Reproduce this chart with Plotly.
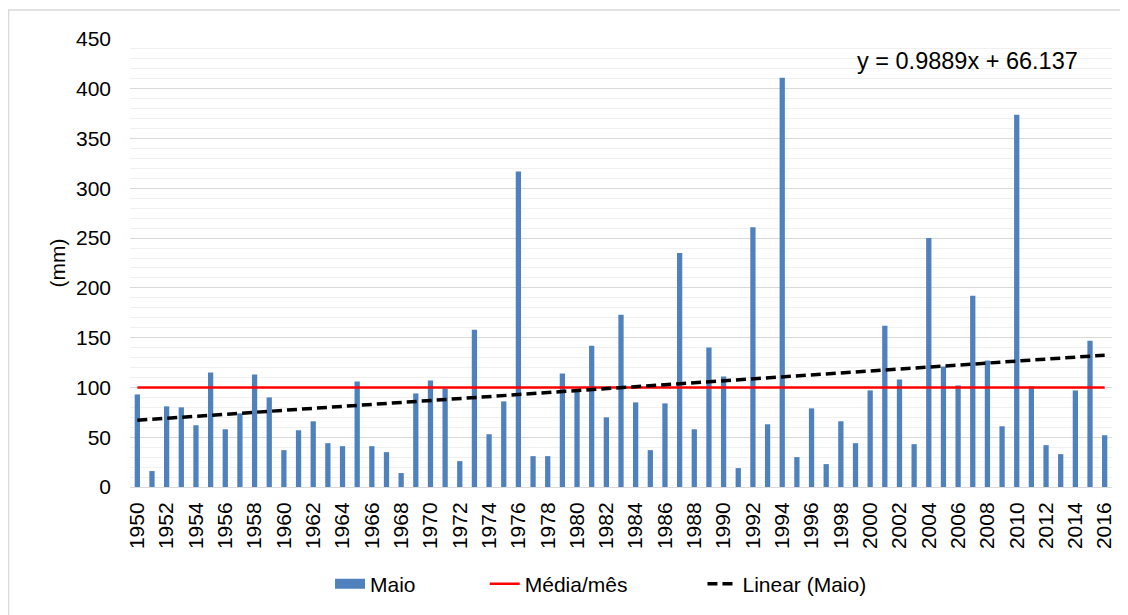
import plotly.graph_objects as go

years = list(range(1950, 2017))
maio_mm = [93, 16, 81, 80, 62, 115, 58, 74, 113, 90,
           37, 57, 66, 44, 41, 106, 41, 35, 14, 94,
           107, 99, 26, 158, 53, 86, 317, 31, 31, 114,
           96, 142, 70, 173, 85, 37, 84, 235, 58, 140,
           111, 19, 261, 63, 411, 30, 79, 23, 66, 44,
           97, 162, 108, 43, 250, 121, 102, 192, 127, 61,
           374, 101, 42, 33, 97, 147, 52]
media_mes = 100
trend_slope = 0.9889
trend_intercept = 66.137
trend_label = "y = 0.9889x + 66.137"
y_ticks = [0, 50, 100, 150, 200, 250, 300, 350, 400, 450]
x_ticks = years[::2]

idx = list(range(1, len(years) + 1))
trend_vals = [trend_slope * i + trend_intercept for i in idx]

FONT = "Liberation Sans, Arial, sans-serif"
BLUE = "#4F81BD"
PAD = "\u00a0"

fig = go.Figure()
fig.add_trace(go.Bar(x=years, y=maio_mm, name="Maio", width=0.36, showlegend=False,
                     legendgroup="maio",
                     marker=dict(color=BLUE, line=dict(width=0))))
# legend entry for the bars (wide blue swatch like the original)
fig.add_trace(go.Scatter(x=[None], y=[None], name="Maio" + PAD * 11, mode="lines",
                         legendgroup="maio", line=dict(color=BLUE, width=12)))
fig.add_trace(go.Scatter(x=years, y=[media_mes] * len(years), name="Média/mês" + PAD * 12,
                         mode="lines", line=dict(color="#FF0000", width=2.5)))
fig.add_trace(go.Scatter(x=[years[0], years[-1]], y=[trend_vals[0], trend_vals[-1]],
                         name="Linear (Maio)", mode="lines",
                         line=dict(color="#000000", width=3.5, dash="10px,5px")))

fig.update_layout(
    width=1128, height=615,
    margin=dict(l=122, r=24, t=31, b=136),
    paper_bgcolor="white", plot_bgcolor="white",
    font=dict(family=FONT, size=21, color="#000000"),
    legend=dict(orientation="h", x=0.2037, xanchor="left", y=-0.2165, yanchor="middle",
                font=dict(size=21), traceorder="normal"),
    annotations=[dict(text=trend_label, xref="paper", yref="paper", x=0.9674, y=0.951,
                      xanchor="right", yanchor="middle", showarrow=False,
                      font=dict(size=23.5, family=FONT))],
    shapes=[dict(type="rect", xref="paper", yref="paper",
                 x0=-0.1237, x1=1.0092, y0=-0.36, y1=1.0647,
                 line=dict(color="#D9D9D9", width=1.5), layer="below")],
)
fig.update_xaxes(range=[1949.5, 2016.5], tickvals=x_ticks, ticktext=[str(t) for t in x_ticks],
                 tickangle=-90, showgrid=False, showline=True, linecolor="#D9D9D9",
                 ticks="", tickfont=dict(size=21), zeroline=False, ticklabelstandoff=6,
                 automargin=False)
fig.update_yaxes(range=[0, 450], tickvals=y_ticks, showgrid=True, gridcolor="#D9D9D9",
                 gridwidth=1, zeroline=False, ticks="", tickfont=dict(size=21),
                 ticklabelstandoff=18, automargin=False,
                 title=dict(text="(mm)", font=dict(size=21), standoff=4),
                 minor=dict(dtick=10, showgrid=True, gridcolor="#F0F0F0", gridwidth=1))

fig.write_html("out.html")
